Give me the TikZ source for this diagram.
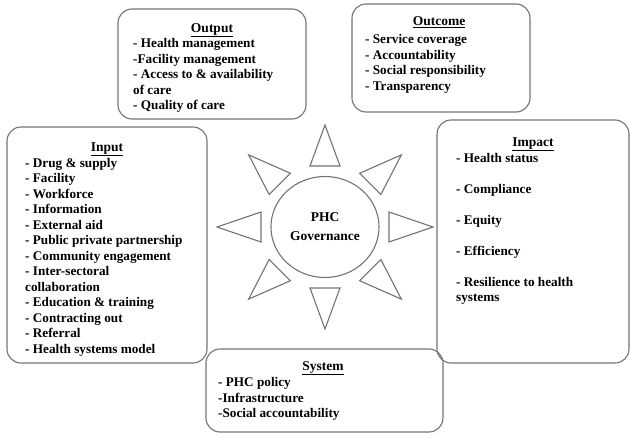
\documentclass[tikz,border=0pt]{standalone}
\usepackage{fontspec}
\setmainfont{Liberation Serif}
\usepackage{tikz}
\usetikzlibrary{shapes,positioning,calc}
\definecolor{linegray}{RGB}{115,115,115}

\begin{document}
\begin{tikzpicture}[x=1pt, y=-1pt,
    panel/.style={rectangle, draw=linegray, line width=1.1pt, rounded corners=14pt, inner sep=0pt},
    head/.style={anchor=base, font=\fontsize{13.5}{15.5}\selectfont\bfseries, inner sep=0pt},
    items/.style={anchor=north west, align=left, inner sep=0pt,
                  font=\fontsize{13.2}{15.5}\selectfont\bfseries},
    hub/.style={ellipse, draw=linegray, line width=1.1pt, minimum width=106pt, minimum height=101pt,
                align=center, font=\fontsize{13.5}{19}\selectfont\bfseries},
    ray/.style={draw=linegray, line width=1.1pt, line join=miter}
]
\useasboundingbox (0,0) rectangle (630,439);

% Boxes
\node[panel, minimum width=188pt, minimum height=110pt] (output) at (212,64) {};
\node[panel, minimum width=178pt, minimum height=108pt] (outcome) at (441,58) {};
\node[panel, minimum width=200pt, minimum height=236pt] (input) at (107,245) {};
\node[panel, minimum width=192pt, minimum height=243pt] (impact) at (533,241.5) {};
\node[panel, minimum width=237pt, minimum height=83pt] (system) at (324.5,390.5) {};

% Titles
\node[head] (outputhead) at (212,32) {\underline{Output}};
\node[head] (outcomehead) at (439,26) {\underline{Outcome}};
\node[head] (inputhead) at (107,151) {\underline{Input}};
\node[head] (impacthead) at (533,146) {\underline{Impact}};
\node[head] (systemhead) at (323,370) {\underline{System}};

% Lists
\node[items] (outputlist) at (133,38.5) {- Health management\\-Facility management\\- Access to \& availability\\of care\\- Quality of care};
\node[items] (outcomelist) at (365,34.5) {- Service coverage\\- Accountability\\- Social responsibility\\- Transparency};
\node[items] (inputlist) at (25,158) {- Drug \& supply\\- Facility\\- Workforce\\- Information\\- External aid\\- Public private partnership\\- Community engagement\\- Inter-sectoral\\collaboration\\- Education \& training\\- Contracting out\\- Referral\\- Health systems model};
\node[items] (impactlist) at (456,153) {- Health status\\[15.5pt]- Compliance\\[15.5pt]- Equity\\[15.5pt]- Efficiency\\[15.5pt]- Resilience to health\\systems};
\node[items] (systemlist) at (218,377.5) {- PHC policy\\-Infrastructure\\-Social accountability};

% Sun
\node[hub] (gov) at (325,227) {PHC\\Governance};
\foreach \a in {0,45,...,315}
  \draw[ray] ($(gov)+(\a:108 and 102)$) -- ($(gov)+(\a:64 and 61)+(\a+90:15)$)
             -- ($(gov)+(\a:64 and 61)+(\a-90:15)$) -- cycle;

\end{tikzpicture}
\end{document}
